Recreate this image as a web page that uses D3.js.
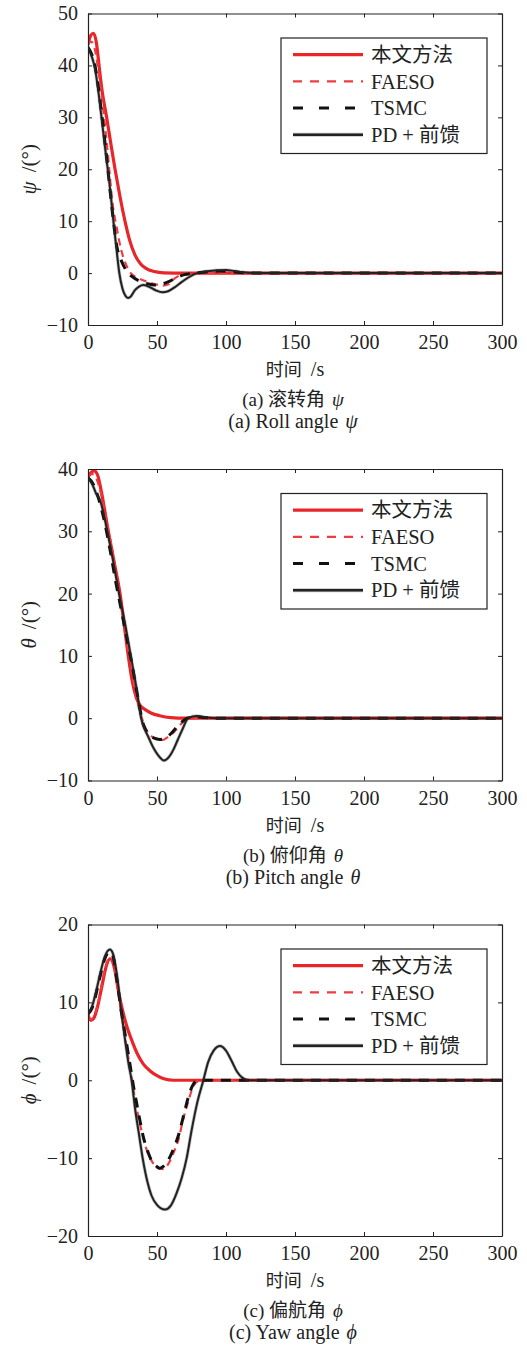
<!DOCTYPE html>
<html>
<head>
<meta charset="utf-8">
<script src="https://cdn.jsdelivr.net/npm/d3@7"></script>
<style>
  body { margin: 0; background: #fff; }
  text { font-family: "Liberation Serif", "Noto Sans CJK SC", serif; fill: #222; }
</style>
</head>
<body>
<div id="main"></div>
<script>
const width = 527;
const height = 1346;

const seriesNames = ['本文方法', 'FAESO', 'TSMC', 'PD + 前馈'];
const xTicks = [0, 50, 100, 150, 200, 250, 300];

// (a) roll angle psi, [t, deg]
const rollProposed = [[0,44],[2,45.8],[4,46.2],[6,44.5],[8,40],[10,35.5],[13.5,30],[16.5,25],[19.6,20],[23,15],[26.8,10],[30,6.5],[34,3.5],[38,1.8],[42,0.9],[48,0.3],[55,0.05],[70,0],[300,0]];
const rollFaeso = [[0,44],[2,44.6],[4,44],[7,40],[10,34],[14,24],[18,13],[21,8.5],[24,4.5],[27,2],[31,0],[36,-0.9],[42,-1.6],[48,-2.1],[54,-2.4],[58,-2.2],[62,-1.2],[66,-0.5],[72,-0.1],[80,0],[300,0]];
const rollTsmc = [[0,43.5],[5,40],[10,30.5],[14,21],[18,11],[21,5],[24,2.5],[27,0.8],[32,-0.7],[38,-1.6],[44,-2.1],[48,-2.3],[52,-2.2],[58,-1.7],[64,-0.9],[70,-0.3],[78,0],[88,0.3],[95,0.4],[102,0.3],[110,0.1],[120,0],[300,0]];
const rollPd = [[0,43.5],[3,41.5],[5,39.5],[8,34],[10,29.5],[12,25],[14.3,20],[16.5,15],[18.4,10],[20.5,5],[22.7,0],[25,-3],[27,-4.3],[29,-4.8],[31,-4.5],[34,-3.3],[37,-2.6],[40,-2.3],[44,-2.6],[49,-3.3],[54,-3.7],[58,-3.5],[63,-2.7],[68,-1.7],[73,-0.8],[79,0],[85,0.3],[92,0.5],[100,0.6],[106,0.4],[112,0.15],[120,0],[300,0]];

// (b) pitch angle theta
const pitchProposed = [[0,38.7],[2,39.4],[4.5,39.7],[7,39],[10,36],[14.7,30],[19,25],[23.2,20],[26.2,15],[29.2,10],[32,6],[35,3.3],[38,2],[42,1.3],[46,0.8],[52,0.4],[60,0.1],[70,0],[300,0]];
const pitchFaeso = [[0,38.7],[3,39.2],[6,38.5],[10,35.5],[14,31],[18,26.5],[22,21],[25.6,16],[28,12.5],[31.6,8],[34,4.5],[36.5,2],[39,0],[42.5,-2],[46,-2.9],[50,-3.4],[54,-3.5],[58,-3],[62,-2.3],[64,-1.8],[67,-1],[70,-0.4],[74,-0.1],[80,0],[300,0]];
const pitchTsmc = [[0,38.6],[4,37.5],[8,35],[12,31.5],[16,27],[20,22],[24,17.5],[28,13],[32,8.5],[36,3.5],[40,-0.9],[44,-2.5],[48,-3.2],[52,-3.4],[56,-3.2],[60,-2.5],[64,-1.5],[68,-0.6],[72,0],[78,0.25],[85,0.1],[95,0],[300,0]];
const pitchPd = [[0,38.5],[3,37.6],[6,36],[8.7,35],[14,30],[18,25.5],[22.5,20],[27,15],[31,10],[35,5],[38.5,0],[43.7,-3],[48,-5],[51,-6],[55,-6.8],[58,-6.4],[62,-5],[65,-3.5],[68,-2],[72.7,0],[78.8,0.35],[86,0.1],[95,0],[300,0]];

// (c) yaw angle phi
const yawProposed = [[0,8.4],[2,7.7],[4,7.9],[7,9.5],[10,12],[13,14.5],[16,15.6],[19,14.5],[22,11.5],[25,9],[28,7],[32,5],[36,3.3],[40,2.1],[45,1.2],[50,0.6],[55,0.2],[62,0],[300,0]];
const yawFaeso = [[0,8.2],[2,7.8],[5,8.5],[8,10.5],[11,13.3],[14,15.3],[16,15.8],[18,15.3],[21,12.5],[24,8.8],[27,5.3],[30,2],[33,-1.3],[36.5,-4.7],[40,-7.3],[43,-9.2],[47,-10.6],[51,-11.3],[54.6,-11.4],[58,-10.8],[62,-9.3],[65.4,-7.7],[69,-5],[73,-2.5],[76,-0.9],[80,-0.1],[85,0],[300,0]];
const yawTsmc = [[0,8.5],[3,9.3],[6,11.2],[9,13.5],[12,15.5],[15.5,16.5],[18,16],[21,12.8],[24,9],[26.8,6],[30,2.5],[33,-0.8],[35.3,-3],[38,-5.5],[40,-7.2],[43,-9],[46,-10.3],[50,-11.1],[52,-11.3],[55,-11],[58,-10.3],[62,-8.8],[66,-6.8],[70,-4],[73,-2],[76,-0.6],[80,0],[300,0]];
const yawPd = [[0,8.6],[3,9.5],[6,11.5],[9,13.8],[12,15.8],[15.9,16.8],[18,16.3],[21,13.5],[24,9],[27,5],[29.5,2],[31.6,0],[34,-3.5],[37,-7],[39.6,-10],[43,-13],[46,-14.8],[50,-16],[55.8,-16.6],[60,-16.1],[64,-14.6],[68,-12.5],[71.5,-10],[75,-6.5],[79,-3],[83.6,0],[87,2.3],[91,3.8],[95.7,4.4],[100,3.8],[104,2.5],[108,1.1],[112,0.3],[116,0],[300,0]];

const rollTicks = [-10, 0, 10, 20, 30, 40, 50];
const pitchTicks = [-10, 0, 10, 20, 30, 40];
const yawTicks = [-20, -10, 0, 10, 20];

const panels = [
  { top: 13.5, domain: [-10, 50], ticks: rollTicks, sym: 'ψ', series: [rollProposed, rollFaeso, rollTsmc, rollPd],
    cap1: '(a) 滚转角', cap2: '(a) Roll angle' },
  { top: 469, domain: [-10, 40], ticks: pitchTicks, sym: 'θ', series: [pitchProposed, pitchFaeso, pitchTsmc, pitchPd],
    cap1: '(b) 俯仰角', cap2: '(b) Pitch angle' },
  { top: 924.5, domain: [-20, 20], ticks: yawTicks, sym: 'ϕ', series: [yawProposed, yawFaeso, yawTsmc, yawPd],
    cap1: '(c) 偏航角', cap2: '(c) Yaw angle' }
];

const styles = [
  { color: '#e8262a', width: 3.2, dash: null },
  { color: '#ee3c40', width: 2.2, dash: '7,5' },
  { color: '#111', width: 3, dash: '10,8' },
  { color: '#222', width: 2, dash: null }
];

const left = 88, right = 502, plotH = 311.5;

const svg = d3.select('#main')
    .append('svg')
    .attr('width', width)
    .attr('height', height);

const x = d3.scaleLinear().domain([0, 300]).range([left, right]);

panels.forEach((p, i) => {
  const bottom = p.top + plotH;
  const y = d3.scaleLinear().domain(p.domain).range([bottom, p.top]);
  const g = svg.append('g');

  g.append('clipPath').attr('id', 'clip' + i)
    .append('rect').attr('x', left).attr('y', p.top).attr('width', right - left).attr('height', plotH);

  const line = d3.line()
      .x(d => x(d[0]))
      .y(d => y(d[1]))
      .curve(d3.curveMonotoneX);

  const lines = g.append('g').attr('clip-path', `url(#clip${i})`);
  // PD line gets a soft grey halo like the original
  lines.append('path')
      .datum(p.series[3])
      .attr('d', line)
      .attr('fill', 'none')
      .attr('stroke', '#999')
      .attr('stroke-width', 3.4)
      .attr('stroke-opacity', 0.6);
  p.series.forEach((s, k) => {
    lines.append('path')
        .datum(s)
        .attr('d', line)
        .attr('fill', 'none')
        .attr('stroke', styles[k].color)
        .attr('stroke-width', styles[k].width)
        .attr('stroke-dasharray', styles[k].dash)
        .attr('stroke-linejoin', 'round');
  });

  // axes, ticks pointing inward
  const axes = [
    g.append('g').attr('transform', `translate(0,${bottom})`)
      .call(d3.axisBottom(x).tickValues(xTicks).tickSizeInner(-4).tickSizeOuter(0).tickPadding(10)),
    g.append('g').attr('transform', `translate(0,${p.top})`)
      .call(d3.axisTop(x).tickValues(xTicks).tickSizeInner(-4).tickSizeOuter(0).tickFormat('')),
    g.append('g').attr('transform', `translate(${left},0)`)
      .call(d3.axisLeft(y).tickValues(p.ticks).tickSizeInner(-4).tickSizeOuter(0).tickPadding(10).tickFormat(d => d < 0 ? '−' + Math.abs(d) : d)),
    g.append('g').attr('transform', `translate(${right},0)`)
      .call(d3.axisRight(y).tickValues(p.ticks).tickSizeInner(-4).tickSizeOuter(0).tickFormat(''))
  ];
  axes.forEach(a => {
    a.attr('font-family', null).attr('font-size', null);
    a.select('.domain').attr('stroke', '#222').attr('stroke-width', 1.2);
    a.selectAll('.tick line').attr('stroke', '#222');
    a.selectAll('.tick text').attr('font-size', 20).attr('fill', '#222');
  });

  // y label
  const yl = g.append('text')
      .attr('transform', `translate(36,${(p.top + bottom) / 2}) rotate(-90)`)
      .attr('text-anchor', 'middle')
      .attr('font-size', 21);
  yl.append('tspan').attr('font-style', 'italic').text(p.sym);
  yl.append('tspan').attr('dx', 9).text('/(°)');

  // x label and captions
  const xl = g.append('text').attr('x', (left + right) / 2).attr('y', bottom + 51)
      .attr('text-anchor', 'middle').attr('font-size', 18);
  xl.append('tspan').text('时间');
  xl.append('tspan').attr('dx', 9).attr('font-size', 20).text('/s');
  [[p.cap1, 81, 19], [p.cap2, 103, 20]].forEach(([c, dy, fs]) => {
    const t = g.append('text').attr('x', (left + right) / 2 - 2).attr('y', bottom + dy)
        .attr('text-anchor', 'middle').attr('font-size', fs);
    t.append('tspan').text(c);
    t.append('tspan').attr('dx', 7).attr('font-style', 'italic').text(p.sym);
  });

  // legend
  const lg = g.append('g').attr('transform', `translate(281,${p.top + 24.5})`);
  lg.append('rect').attr('width', 206).attr('height', 115.5)
      .attr('fill', '#fff').attr('stroke', '#222').attr('stroke-width', 1.2);
  seriesNames.forEach((name, k) => {
    const ry = 16.7 + k * 26.7;
    if (k === 3) {
      lg.append('line').attr('x1', 12).attr('x2', 82).attr('y1', ry).attr('y2', ry)
          .attr('stroke', '#999').attr('stroke-width', 4).attr('stroke-opacity', 0.6);
    }
    lg.append('line').attr('x1', 12).attr('x2', 82).attr('y1', ry).attr('y2', ry)
        .attr('stroke', styles[k].color)
        .attr('stroke-width', k === 3 ? 2.4 : styles[k].width)
        .attr('stroke-dasharray', k === 1 ? '9,8' : k === 2 ? '10,16' : null);
    lg.append('text').attr('x', 90).attr('y', ry).attr('dy', '0.35em')
        .attr('font-size', 20.5).text(name);
  });
});
</script>
</body>
</html>
